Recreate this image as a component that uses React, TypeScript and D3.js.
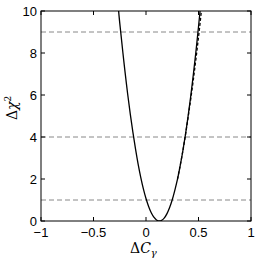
import React from "react";
import * as d3 from "d3";

const solidX = [-0.28, -0.26, -0.24, -0.22, -0.2, -0.175, -0.15, -0.125, -0.1, -0.075, -0.05, -0.025, 0, 0.025, 0.05, 0.075, 0.1, 0.127, 0.15, 0.175, 0.2, 0.225, 0.25, 0.275, 0.3, 0.325, 0.35, 0.375, 0.4, 0.425, 0.45, 0.475, 0.5, 0.52, 0.54];
const solidY = [11.5, 9.96, 8.96, 8.01, 7.11, 6.06, 5.10, 4.23, 3.43, 2.71, 2.08, 1.53, 1.07, 0.69, 0.39, 0.18, 0.05, 0.0, 0.035, 0.15, 0.35, 0.64, 1.01, 1.47, 1.99, 2.61, 3.31, 4.09, 4.96, 5.90, 6.94, 8.05, 9.25, 10.27, 11.34];

const dashX = [0.3, 0.35, 0.4, 0.45, 0.5, 0.54];
const dashY = [1.99, 3.31, 4.9, 6.7, 8.75, 10.6];

const refLevels = [1, 4, 9];
const xTicks = [-1, -0.5, 0, 0.5, 1];
const xTickLabels = ["\u22121", "\u22120.5", "0", "0.5", "1"];
const yTicks = [0, 2, 4, 6, 8, 10];

export default function App() {
  const W = 259, H = 260;
  const L = 41, R = 251, T = 11, B = 221;
  const x = d3.scaleLinear().domain([-1, 1]).range([L, R]);
  const y = d3.scaleLinear().domain([0, 10]).range([B, T]);
  const line = d3.line<[number, number]>().x(d => x(d[0])).y(d => y(d[1])).curve(d3.curveCatmullRom);
  const solid = line(solidX.map((v, i) => [v, solidY[i]] as [number, number])) || "";
  const dash = line(dashX.map((v, i) => [v, dashY[i]] as [number, number])) || "";
  const tl = 4;
  const font = "'Liberation Sans', Arial, sans-serif";
  const serif = "'DejaVu Serif', 'Liberation Serif', serif";
  return (
    <svg width={W} height={H} style={{ position: "absolute", left: 0, top: 0, background: "#fff" }}>
      <defs>
        <clipPath id="pa"><rect x={L} y={T} width={R - L} height={B - T} /></clipPath>
      </defs>
      {refLevels.map(l => (
        <line key={l} x1={L} x2={R} y1={y(l)} y2={y(l)} stroke="#888" strokeWidth={1} strokeDasharray="5,3" />
      ))}
      <g clipPath="url(#pa)">
        <path d={dash} fill="none" stroke="#000" strokeWidth={1.3} strokeDasharray="3,2" />
        <path d={solid} fill="none" stroke="#000" strokeWidth={1.3} />
      </g>
      <rect x={L} y={T} width={R - L} height={B - T} fill="none" stroke="#000" strokeWidth={1} />
      {xTicks.map((t, i) => (
        <g key={"x" + t}>
          <line x1={x(t)} x2={x(t)} y1={B} y2={B - tl} stroke="#000" />
          <line x1={x(t)} x2={x(t)} y1={T} y2={T + tl} stroke="#000" />
          <text x={x(t)} y={237} textAnchor="middle" fontFamily={font} fontSize={13}>{xTickLabels[i]}</text>
        </g>
      ))}
      {yTicks.map(t => (
        <g key={"y" + t}>
          <line x1={L} x2={L + tl} y1={y(t)} y2={y(t)} stroke="#000" />
          <line x1={R} x2={R - tl} y1={y(t)} y2={y(t)} stroke="#000" />
          <text x={37} y={y(t) + 4.5} textAnchor="end" fontFamily={font} fontSize={13}>{t}</text>
        </g>
      ))}
      <text x={130} y={253} textAnchor="start" fontFamily={serif} fontSize={14}>
        <tspan>{"\u0394"}</tspan><tspan fontStyle="italic">C</tspan><tspan fontStyle="italic" fontSize={10} dy={3}>{"\u03b3"}</tspan>
      </text>
      <text transform={`translate(17,120) rotate(-90)`} textAnchor="start" fontFamily={serif} fontSize={14}>
        <tspan>{"\u0394"}</tspan><tspan fontStyle="italic">{"\u03c7"}</tspan><tspan fontSize={9} dy={-6}>2</tspan>
      </text>
    </svg>
  );
}
